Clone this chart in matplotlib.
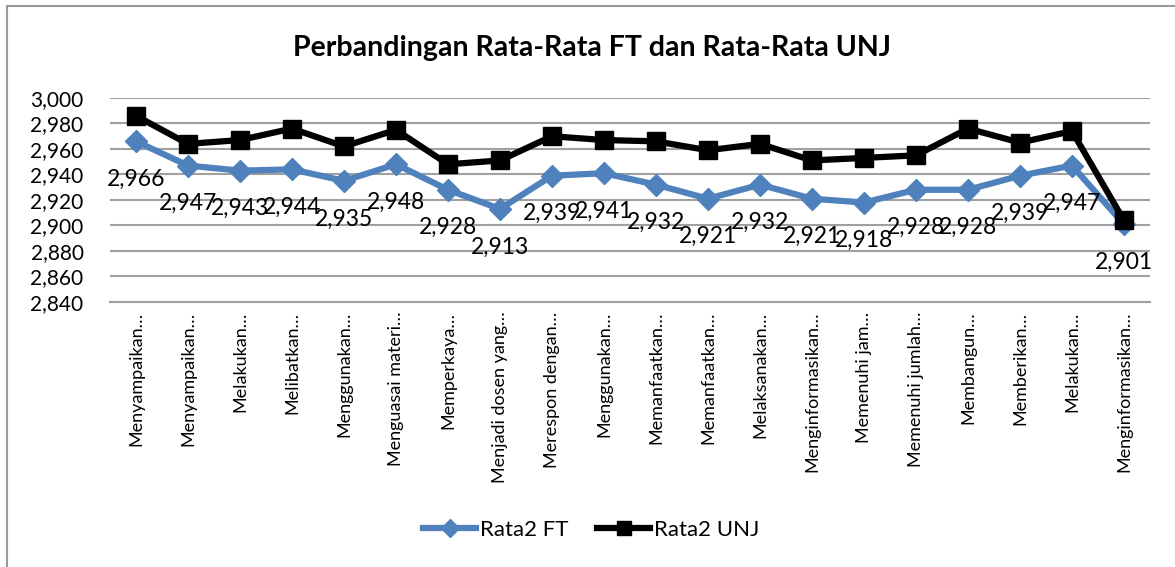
import matplotlib.pyplot as plt
from matplotlib.patches import Rectangle
from matplotlib.ticker import FuncFormatter
import numpy as np

plt.rcParams['font.family'] = ['Lato', 'DejaVu Sans']

categories = ['Menyampaikan…', 'Menyampaikan…', 'Melakukan…', 'Melibatkan…',
              'Menggunakan…', 'Menguasai materi…', 'Memperkaya…',
              'Menjadi dosen yang…', 'Merespon dengan…', 'Menggunakan…',
              'Memanfaatkan…', 'Memanfaatkan…', 'Melaksanakan…',
              'Menginformasikan…', 'Memenuhi jam…', 'Memenuhi jumlah…',
              'Membangun…', 'Memberikan…', 'Melakukan…', 'Menginformasikan…']
rata_ft = [2.966, 2.947, 2.943, 2.944, 2.935, 2.948, 2.928, 2.913, 2.939, 2.941,
           2.932, 2.921, 2.932, 2.921, 2.918, 2.928, 2.928, 2.939, 2.947, 2.901]
rata_unj = [2.986, 2.964, 2.967, 2.976, 2.962, 2.975, 2.948, 2.951, 2.970, 2.967,
            2.966, 2.959, 2.964, 2.951, 2.953, 2.955, 2.976, 2.965, 2.974, 2.904]
y_ticks = np.arange(2.840, 3.001, 0.020)

def comma(v, pos=None):
  return f'{v:.3f}'.replace('.', ',')

fig = plt.figure(figsize=(11.75, 5.67), dpi=100)
ax = fig.add_axes([0.0936, 0.4674, 0.8851, 0.3598])
x = np.arange(len(categories))

ax.plot(x, rata_ft, color='#4F81BD', lw=4.5, marker='D', ms=11,
        label='Rata2 FT', zorder=3)
ax.plot(x, rata_unj, color='black', lw=4.5, marker='s', ms=13,
        label='Rata2 UNJ', zorder=4)

for xi, v in zip(x, rata_ft):
  ax.annotate(comma(v), (xi, v), xytext=(0, -38), textcoords='offset pixels',
              ha='center', va='center', fontsize=16.5, zorder=5)

ax.set_xlim(-0.5, len(categories) - 0.5)
ax.set_ylim(2.840, 3.000)
ax.set_yticks(y_ticks)
ax.yaxis.set_major_formatter(FuncFormatter(comma))
ax.set_xticks(x)
ax.set_xticklabels(categories, rotation=90, fontsize=13)
ax.tick_params(axis='x', length=0, pad=7)
ax.tick_params(axis='y', length=0, pad=19, labelsize=15)
ax.grid(axis='y', color='#A0A0A0', lw=1.5)
ax.set_axisbelow(True)
for s in ['left', 'right', 'top']:
  ax.spines[s].set_visible(False)
ax.spines['bottom'].set_color('#A0A0A0')
ax.spines['bottom'].set_linewidth(1.5)

fig.text(0.504, 0.915, 'Perbandingan Rata-Rata FT dan Rata-Rata UNJ',
         ha='center', va='center', fontsize=20.5, fontweight='bold')

fig.legend(loc='center', bbox_to_anchor=(0.503, 0.065), ncol=2, frameon=False,
           fontsize=16, handlelength=2.4, columnspacing=1.3, handletextpad=0.15,
           markerscale=0.8)

fig.patches.append(Rectangle((7 / 1175, -0.1), 1.2, 1.1 - 6 / 567,
                             transform=fig.transFigure, fill=False,
                             edgecolor='#9A9A9A', lw=1.5))

fig.savefig('out.png', dpi=100)
